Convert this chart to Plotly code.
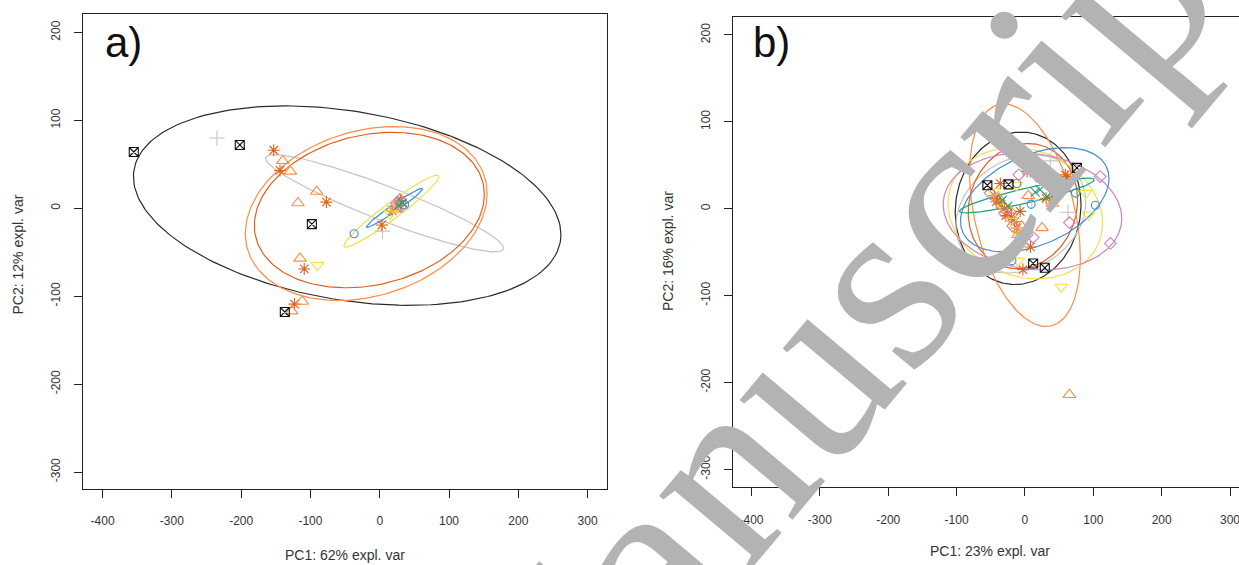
import numpy as np
import plotly.graph_objects as go

W, H = 1239, 565

# ---------------- Panel a (PC1 62%, PC2 12%) ----------------
a_black_x = [-355, -202, -98, -137]
a_black_y = [64, 72, -18, -118]
a_gray_x = [-235, 4]
a_gray_y = [80, -26]
a_dorange_x = [-153, -144, -77, -109, -123, 3, 25, 18, 30]
a_dorange_y = [66, 43, 7, -69, -109, -19, 2, -3, 9]
a_lorange_x = [-140, -129, -91, -118, -115, -112, -127, 22, 28]
a_lorange_y = [54, 42, 19, 6, -57, -106, -117, -1, 6]
a_yellow_x = [-90, 15, 20, 26]
a_yellow_y = [-65, -6, 0, 3]
a_blue_x = [-37, 32, 36]
a_blue_y = [-29, 8, 4]
a_pink_x = [24, 29, 31]
a_pink_y = [5, 10, 2]
a_green_x = [27, 33]
a_green_y = [3, 6]

# ellipses: black, gray, dark orange, light orange, yellow, blue
a_ell_cx = [-47, 7, -15, -19.5, 17, 21.4]
a_ell_cy = [3, 5.7, -2, -6, -3.2, 0.5]
a_ell_hx = [308.5, 171.8, 166, 174.5, 68.8, 40.5]
a_ell_hy = [113.4, 55.3, 88.4, 98.9, 41, 22.2]
a_ell_r = [-0.29, -0.925, 0.2, 0.23, 0.96, 0.975]

# ---------------- Panel b (PC1 23%, PC2 16%) ----------------
b_black_x = [-55, -24, 25, 76, 12, 29]
b_black_y = [27, 28, 41, 47, -63, -68]
b_dorange_x = [-36, 3, 13, 59, -7, 8, 31, -3, 62, -45, -40, -35, -30, -25, -20, -15, -12, -8, -42, -28]
b_dorange_y = [29, 43, 41, 39, -3, -44, 12, -70, 37, 15, 10, 5, 0, -5, -10, -15, -22, -27, 8, -8]
b_lorange_x = [65, 40, 25, -10, -5, 35, -38, -22, 5]
b_lorange_y = [-214, 6, -22, -30, -20, 30, 12, -2, 15]
b_yellow_x = [53, 93, 89, -12, -14, -10, -32, -20, -46]
b_yellow_y = [-90, -7, 18, 27, -25, -60, 2, -14, 20]
b_pink_x = [110, 125, 65, -15, 12, -9, -51, 3, -18, -30]
b_pink_y = [37, -40, -16, -44, -33, 39, 18, -30, -20, -5]
b_blue_x = [103, 74, 9, -19, 55, 20, 62, -12, 40]
b_blue_y = [4, 18, 5, -60, 28, 35, 27, 29, 22]
b_green_x = [15, 22, 32, 45, -33, -25]
b_green_y = [19, 22, 14, 20, 10, 3]
b_gray_x = [37, 63, -20, 10]
b_gray_y = [55, -4, -5, 10]

# ellipses: black, gray, dark orange, light orange, yellow, pink, blue, green
b_ell_cx = [-10, -6, -3, 0, 0.5, 11, 14.3, 2.8]
b_ell_cy = [0.5, -6, 3, -7.5, -5.2, -3.2, 10.3, 15.2]
b_ell_hx = [92, 95, 80, 81, 113, 130.6, 108.6, 98.6]
b_ell_hy = [87.7, 68, 72, 128, 75.5, 67.2, 60, 20]
b_ell_r = [0.05, 0.2, 0.1, -0.38, -0.15, -0.12, 0.41, 0.9]

tickvals_x = [-400, -300, -200, -100, 0, 100, 200, 300]
ticktext_x = ["-400", "-300", "-200", "-100", "0", "100", "200", "300"]
tickvals_y = [-300, -200, -100, 0, 100, 200]
ticktext_y = ["-300", "-200", "-100", "0", "100", "200"]

# colours
C_BLACK = "#2b2b2b"
C_GRAY = "#c4c4c4"
C_DOR = "#e0601c"
C_LOR = "#ff8d45"
C_YEL = "#f3e04a"
C_BLUE = "#3b8fd8"
C_PINK = "#d67fbe"
C_GREEN = "#1ba079"

a_ell_col = [C_BLACK, C_GRAY, C_DOR, C_LOR, C_YEL, C_BLUE]
b_ell_col = [C_BLACK, C_GRAY, C_DOR, C_LOR, C_YEL, C_PINK, C_BLUE, C_GREEN]

FONT = "Liberation Sans, Arial, sans-serif"

fig = go.Figure()

t = np.linspace(0, 2 * np.pi, 200)


def add_ellipses(cx, cy, hx, hy, r, cols, xa, ya):
    for i in range(len(cx)):
        ex = cx[i] + hx[i] * np.cos(t)
        ey = cy[i] + hy[i] * (r[i] * np.cos(t) + np.sqrt(1 - r[i] ** 2) * np.sin(t))
        fig.add_trace(go.Scatter(x=ex, y=ey, mode="lines", xaxis=xa, yaxis=ya,
                                 line=dict(color=cols[i], width=1.2), hoverinfo="skip",
                                 showlegend=False))


def add_pts(x, y, sym, col, xa, ya, size=9):
    fig.add_trace(go.Scatter(x=x, y=y, mode="markers", xaxis=xa, yaxis=ya, showlegend=False,
                             marker=dict(symbol=sym, size=size, color=col,
                                         line=dict(color=col, width=1.1))))


# panel a
add_ellipses(a_ell_cx, a_ell_cy, a_ell_hx, a_ell_hy, a_ell_r, a_ell_col, "x", "y")
add_pts(a_gray_x, a_gray_y, "cross-thin-open", C_GRAY, "x", "y", 11)
add_pts(a_dorange_x, a_dorange_y, "asterisk-open", C_DOR, "x", "y", 10)
add_pts(a_lorange_x, a_lorange_y, "triangle-up-open", C_LOR, "x", "y", 11)
add_pts(a_yellow_x, a_yellow_y, "triangle-down-open", C_YEL, "x", "y", 11)
add_pts(a_blue_x, a_blue_y, "circle-open", C_BLUE, "x", "y", 8)
add_pts(a_pink_x, a_pink_y, "diamond-open", C_PINK, "x", "y", 9)
add_pts(a_green_x, a_green_y, "x-thin-open", C_GREEN, "x", "y", 8)
add_pts(a_black_x, a_black_y, "square-x-open", "#111111", "x", "y", 9)

# panel b
add_ellipses(b_ell_cx, b_ell_cy, b_ell_hx, b_ell_hy, b_ell_r, b_ell_col, "x2", "y2")
add_pts(b_gray_x, b_gray_y, "cross-thin-open", C_GRAY, "x2", "y2", 11)
add_pts(b_dorange_x, b_dorange_y, "asterisk-open", C_DOR, "x2", "y2", 10)
add_pts(b_lorange_x, b_lorange_y, "triangle-up-open", C_LOR, "x2", "y2", 11)
add_pts(b_yellow_x, b_yellow_y, "triangle-down-open", C_YEL, "x2", "y2", 11)
add_pts(b_blue_x, b_blue_y, "circle-open", C_BLUE, "x2", "y2", 8)
add_pts(b_pink_x, b_pink_y, "diamond-open", C_PINK, "x2", "y2", 9)
add_pts(b_green_x, b_green_y, "x-thin-open", C_GREEN, "x2", "y2", 9)
add_pts(b_black_x, b_black_y, "square-x-open", "#111111", "x2", "y2", 9)

ax_common = dict(showgrid=False, zeroline=False, showline=True, linecolor="#222222", linewidth=1,
                 ticks="outside", ticklen=8, tickcolor="#222222", tickwidth=1,
                 tickfont=dict(family=FONT, size=12, color="#333333"))

fig.update_layout(
    width=W, height=H, margin=dict(l=0, r=0, t=0, b=0),
    paper_bgcolor="white", plot_bgcolor="white",
    xaxis=dict(domain=[82.5 / W, 607 / W], range=[-429, 328], tickvals=tickvals_x, ticktext=ticktext_x,
               mirror=True, anchor="y", ticklabelstandoff=13, **ax_common),
    yaxis=dict(domain=[1 - 489 / H, 1 - 14.4 / H], range=[-319.3, 220.5], tickvals=tickvals_y,
               ticktext=ticktext_y, tickangle=-90, mirror=True, anchor="x", ticklabelstandoff=9,
               **ax_common),
    xaxis2=dict(domain=[732.5 / W, 1.0], range=[-427.8, 313.1], tickvals=tickvals_x, ticktext=ticktext_x,
                mirror=True, anchor="y2", ticklabelstandoff=13, ticklabeloverflow="allow", **ax_common),
    yaxis2=dict(domain=[1 - 487.4 / H, 1 - 16.5 / H], range=[-320.7, 221.2], tickvals=tickvals_y,
                ticktext=ticktext_y, tickangle=-90, mirror=False, anchor="x2", ticklabelstandoff=9,
                **ax_common),
)

annos = [
    dict(text="PC1: 62% expl. var", x=345 / W, y=1 - 555 / H, size=14, angle=0),
    dict(text="PC1: 23% expl. var", x=990 / W, y=1 - 551 / H, size=14, angle=0),
    dict(text="PC2: 12% expl. var", x=17 / W, y=1 - 254.5 / H, size=14, angle=-90),
    dict(text="PC2: 16% expl. var", x=668 / W, y=1 - 251 / H, size=14, angle=-90),
]
for an in annos:
    fig.add_annotation(text=an["text"], x=an["x"], y=an["y"], xref="paper", yref="paper",
                       showarrow=False, xanchor="center", yanchor="middle", textangle=an["angle"],
                       font=dict(family=FONT, size=an["size"], color="#333333"))

fig.add_annotation(text="a)", x=103 / W, y=1 - 42 / H, xref="paper", yref="paper", showarrow=False,
                   xanchor="left", yanchor="middle", font=dict(family=FONT, size=42, color="#111111"))
fig.add_annotation(text="b)", x=751 / W, y=1 - 42 / H, xref="paper", yref="paper", showarrow=False,
                   xanchor="left", yanchor="middle", font=dict(family=FONT, size=42, color="#111111"))

# watermark
fig.add_annotation(text="Manuscript", x=834 / W, y=1 - 335 / H, xref="paper", yref="paper",
                   showarrow=False, xanchor="center", yanchor="middle", textangle=-50,
                   font=dict(family="Liberation Serif, Times New Roman, serif", size=256, color="#b3b3b3"))

fig.write_html("out.html", config={"displayModeBar": False},
               post_script="document.body.style.margin='0';document.body.style.overflow='hidden';")
